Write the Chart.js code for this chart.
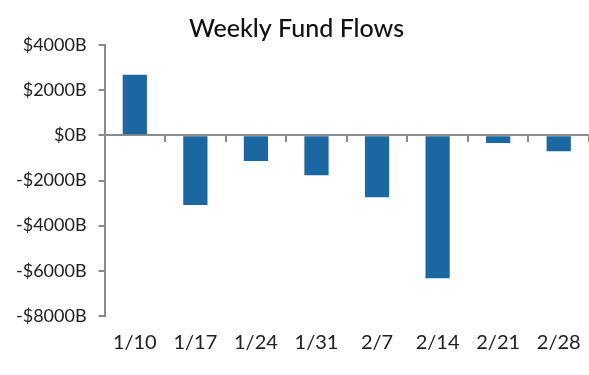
<!DOCTYPE html>
<html>
<head>
<meta charset="utf-8">
<script src="https://cdn.jsdelivr.net/npm/chart.js@4/dist/chart.umd.min.js"></script>
<style>
  html, body { margin: 0; padding: 0; background: #fff; }
  #wrap { width: 589px; height: 375px; }
</style>
</head>
<body>
<div id="wrap"><canvas id="flows"></canvas></div>
<script>
// Weekly fund flows, billions
var weeks = ["1/10", "1/17", "1/24", "1/31", "2/7", "2/14", "2/21", "2/28"];
var flows = [2680, -3090, -1140, -1770, -2740, -6330, -340, -700];
var yTicks = [-8000, -6000, -4000, -2000, 0, 2000, 4000];

var axisGray = "#8c8c8c";
var fontFam = "Lato, 'Open Sans', sans-serif";

function money(v) {
    return (v < 0 ? "-$" : "$") + Math.abs(v) + "B";
}

var ctx = document.getElementById("flows");
var chart = new Chart(ctx, {
    type: "bar",
    data: {
        labels: weeks,
        datasets: [{
            label: "Weekly Fund Flows",
            data: flows,
            backgroundColor: "#1b67a1",
            borderColor: "transparent",
            categoryPercentage: 1,
            barPercentage: 0.4,
            xAxisID: "x"
        }]
    },
    options: {
        responsive: true,
        maintainAspectRatio: false,
        animation: false,
        layout: { padding: { left: 4, right: 0, top: 14, bottom: 13 } },
        plugins: {
            legend: { display: false },
            tooltip: { enabled: false },
            title: {
                display: true,
                text: "Weekly Fund Flows",
                color: "#111",
                font: { family: fontFam, size: 25, weight: "500" },
                padding: { top: 0, bottom: 1 }
            }
        },
        scales: {
            x: {
                position: "bottom",
                grid: { display: false },
                border: { display: false },
                ticks: { color: "#222", font: { family: fontFam, size: 20 }, padding: 7, maxRotation: 0 }
            },
            // zero line with boundary ticks
            x2: {
                type: "category",
                labels: weeks,
                position: { y: 0 },
                offset: true,
                grid: { drawOnChartArea: false, offset: true, tickLength: 6, color: axisGray, lineWidth: 2 },
                border: { display: true, color: axisGray, width: 2 },
                ticks: { display: false }
            },
            y: {
                min: -8000,
                max: 4000,
                afterBuildTicks: function(scale) {
                    scale.ticks = yTicks.map(function(v) { return { value: v }; });
                },
                grid: { drawOnChartArea: false, tickLength: 6, color: axisGray, lineWidth: 2 },
                border: { display: true, color: axisGray, width: 2 },
                ticks: {
                    color: "#222",
                    font: { family: fontFam, size: 18 },
                    padding: 12,
                    callback: function(v) { return money(v); }
                }
            }
        }
    }
});
</script>
</body>
</html>
